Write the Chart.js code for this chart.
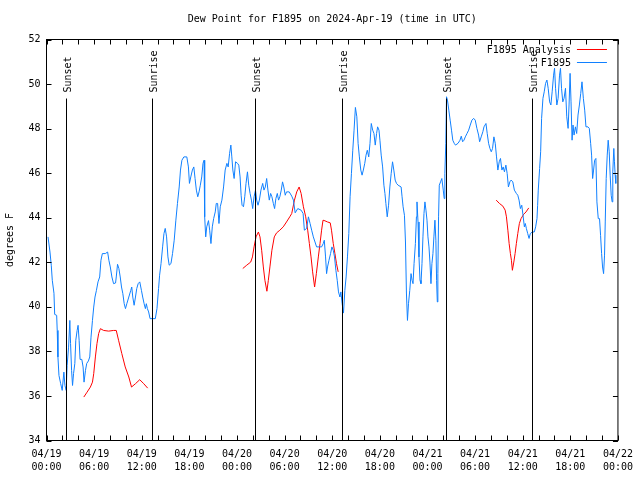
<!DOCTYPE html>
<html>
<head>
<meta charset="utf-8">
<script src="https://cdn.jsdelivr.net/npm/chart.js@4.4.1/dist/chart.umd.min.js"></script>
<style>
  html, body { margin: 0; padding: 0; background: #fff; }
  canvas { display: block; }
</style>
</head>
<body>
<canvas id="dewChart" width="640" height="480"></canvas>
<script>
const chartTitle = "Dew Point for F1895 on 2024-Apr-19 (time in UTC)";
const yAxisTitle = "degrees F";
const seriesNames = ["F1895 Analysis", "F1895"];

// x axis is hours since 04/19 00:00 UTC
const xTickLabels = [
    ["04/19", "00:00"], ["04/19", "06:00"], ["04/19", "12:00"], ["04/19", "18:00"],
    ["04/20", "00:00"], ["04/20", "06:00"], ["04/20", "12:00"], ["04/20", "18:00"],
    ["04/21", "00:00"], ["04/21", "06:00"], ["04/21", "12:00"], ["04/21", "18:00"],
    ["04/22", "00:00"],
];

const sunHours = [2.40, 13.30, 26.28, 37.22, 50.32, 61.20];
const sunLabels = ["Sunset", "Sunrise", "Sunset", "Sunrise", "Sunset", "Sunrise"];
const sunLineTop = 49.35;

// observed dew point (F1895)
const obsHours = [
    0.19, 0.44, 0.60, 0.73, 0.94, 1.03, 1.28, 1.35, 1.44, 1.57,
    1.78, 1.98, 2.19, 2.32, 2.48, 2.60, 2.78, 2.94, 3.03, 3.16,
    3.28, 3.41, 3.57, 3.69, 3.86, 3.98, 4.11, 4.23, 4.45, 4.61,
    4.73, 4.91, 5.07, 5.28, 5.45, 5.61, 5.79, 5.95, 6.11, 6.29,
    6.49, 6.70, 6.86, 7.04, 7.41, 7.70, 7.86, 8.04, 8.24, 8.45,
    8.70, 8.79, 8.95, 9.12, 9.29, 9.45, 9.62, 9.79, 9.95, 10.12,
    10.37, 10.62, 10.74, 10.87, 11.04, 11.21, 11.37, 11.55, 11.75, 11.96,
    12.12, 12.30, 12.46, 12.58, 12.71, 12.87, 13.05, 13.71, 13.92, 14.12,
    14.25, 14.43, 14.63, 14.80, 14.96, 15.13, 15.30, 15.46, 15.68, 15.88,
    16.09, 16.30, 16.50, 16.72, 16.88, 17.06, 17.31, 17.68, 17.88, 18.01,
    18.18, 18.38, 18.56, 18.72, 18.88, 19.06, 19.22, 19.38, 19.56, 19.72,
    19.85, 19.93, 20.06, 20.19, 20.41, 20.56, 20.72, 20.89, 21.06, 21.26,
    21.39, 21.56, 21.73, 21.89, 22.10, 22.31, 22.51, 22.73, 22.89, 23.07,
    23.23, 23.35, 23.48, 23.64, 23.82, 24.07, 24.23, 24.39, 24.52, 24.64,
    24.82, 24.98, 25.14, 25.32, 25.48, 25.65, 25.82, 25.98, 26.15, 26.33,
    26.48, 26.65, 26.82, 27.02, 27.24, 27.40, 27.57, 27.74, 27.90, 28.07,
    28.24, 28.40, 28.58, 28.74, 28.90, 29.08, 29.24, 29.40, 29.58, 29.74,
    29.90, 30.08, 30.24, 30.58, 30.90, 31.11, 31.33, 31.66, 32.08, 32.33,
    32.49, 32.78, 33.00, 33.21, 33.41, 33.62, 33.83, 34.03, 34.66, 34.87,
    35.00, 35.16, 35.29, 35.41, 35.59, 35.79, 35.96, 36.13, 36.29, 36.46,
    36.63, 36.79, 36.97, 37.09, 37.25, 37.42, 37.59, 37.75, 37.92, 38.09,
    38.25, 38.42, 38.59, 38.75, 38.92, 39.10, 39.26, 39.42, 39.60, 39.76,
    39.92, 40.10, 40.26, 40.42, 40.60, 40.76, 40.92, 41.10, 41.26, 41.42,
    41.59, 41.72, 41.89, 42.01, 42.17, 42.35, 42.51, 42.64, 42.76, 42.93,
    43.10, 43.26, 43.43, 43.60, 43.76, 43.93, 44.10, 44.30, 44.68, 44.80,
    44.93, 45.10, 45.23, 45.35, 45.48, 45.61, 45.77, 45.93, 46.06, 46.18,
    46.31, 46.48, 46.61, 46.68, 46.81, 46.93, 47.06, 47.18, 47.31, 47.43,
    47.56, 47.68, 47.81, 47.94, 48.06, 48.19, 48.31, 48.44, 48.56, 48.69,
    48.81, 48.94, 49.06, 49.15, 49.24, 49.31, 49.40, 49.49, 49.65, 49.81,
    49.99, 50.11, 50.19, 50.31, 50.40, 50.52, 50.69, 50.86, 51.03, 51.19,
    51.37, 51.53, 51.85, 52.10, 52.26, 52.43, 52.60, 52.77, 52.98, 53.19,
    53.39, 53.60, 53.82, 54.02, 54.23, 54.44, 54.57, 54.77, 54.98, 55.12,
    55.37, 55.53, 55.70, 55.87, 56.04, 56.20, 56.37, 56.54, 56.70, 56.87,
    57.04, 57.20, 57.38, 57.54, 57.70, 57.88, 58.04, 58.20, 58.38, 58.54,
    58.75, 58.95, 59.20, 59.38, 59.54, 59.71, 59.88, 60.04, 60.21, 60.33,
    60.46, 60.63, 60.80, 60.96, 61.21, 61.46, 61.63, 61.80, 61.88, 61.96,
    62.13, 62.26, 62.38, 62.55, 62.71, 62.88, 63.05, 63.21, 63.39, 63.55,
    63.71, 63.89, 64.01, 64.14, 64.30, 64.46, 64.64, 64.76, 64.89, 65.05,
    65.21, 65.39, 65.55, 65.72, 65.84, 65.97, 66.09, 66.22, 66.34, 66.47,
    66.64, 66.80, 66.97, 67.14, 67.31, 67.47, 67.64, 67.81, 67.97, 68.22,
    68.39, 68.56, 68.68, 68.81, 68.93, 69.06, 69.22, 69.35, 69.52, 69.68,
    69.81, 69.94, 70.06, 70.19, 70.31, 70.40, 70.52, 70.65, 70.77, 70.90,
    71.02, 71.15, 71.27, 71.35, 71.48, 71.56, 71.65, 71.73,
];
const obsDew = [
    43.14, 42.46, 41.87, 41.19, 40.61, 39.66, 39.62, 38.94, 37.75, 36.92,
    36.56, 36.25, 37.07, 36.47, 36.25, 37.37, 38.19, 39.39, 38.36, 37.15,
    36.47, 37.01, 37.46, 38.50, 38.94, 39.17, 38.50, 37.64, 37.64, 37.30,
    36.62, 37.15, 37.46, 37.57, 37.75, 38.64, 39.39, 39.99, 40.44, 40.74,
    41.12, 41.34, 42.09, 42.39, 42.39, 42.46, 42.09, 41.79, 41.34, 41.04,
    41.07, 41.34, 41.91, 41.72, 41.34, 40.89, 40.59, 40.14, 39.92, 40.14,
    40.44, 40.74, 40.89, 40.44, 40.07, 40.44, 40.82, 41.04, 41.12, 40.74,
    40.44, 40.14, 39.92, 40.14, 39.92, 39.77, 39.47, 39.47, 39.92, 40.82,
    41.42, 41.94, 42.69, 43.29, 43.52, 43.14, 42.24, 41.87, 41.94, 42.39,
    42.99, 43.89, 44.64, 45.38, 46.14, 46.58, 46.73, 46.73, 46.28, 45.54,
    45.83, 46.14, 46.28, 45.76, 45.24, 44.94, 45.16, 45.46, 45.83, 46.44,
    46.58, 44.04, 43.14, 43.59, 43.87, 43.44, 42.84, 43.59, 43.96, 44.26,
    44.64, 44.64, 43.74, 44.49, 44.79, 45.38, 46.14, 46.44, 46.28, 46.89,
    47.26, 46.73, 46.14, 45.76, 46.51, 46.44, 46.36, 45.83, 45.01, 44.56,
    44.49, 44.94, 45.54, 46.06, 45.46, 45.09, 44.79, 44.41, 44.94, 45.24,
    44.79, 44.56, 44.79, 45.24, 45.54, 45.24, 45.38, 45.76, 45.24, 44.79,
    45.09, 44.94, 44.64, 44.41, 44.86, 45.09, 44.79, 44.94, 45.24, 45.61,
    45.38, 45.01, 45.16, 45.16, 44.97, 44.79, 44.22, 44.41, 44.34, 44.19,
    43.44, 43.52, 44.04, 43.74, 43.44, 43.14, 42.91, 42.69, 42.69, 42.84,
    42.99, 42.24, 41.49, 41.79, 42.09, 42.39, 42.69, 42.54, 42.24, 41.64,
    41.19, 40.67, 40.44, 40.67, 40.14, 39.72, 40.74, 41.34, 42.24, 43.29,
    44.94, 45.99, 47.03, 47.93, 48.95, 48.53, 47.34, 46.73, 46.14, 45.91,
    46.14, 46.44, 46.81, 47.03, 46.73, 47.34, 48.23, 47.93, 47.78, 47.26,
    47.78, 48.08, 47.93, 47.48, 46.81, 46.28, 45.46, 45.09, 44.64, 44.04,
    44.56, 45.38, 45.99, 46.51, 46.14, 45.69, 45.54, 45.46, 45.38, 44.94,
    44.49, 44.11, 42.91, 40.62, 39.39, 40.14, 40.74, 41.49, 41.19, 41.04,
    41.94, 42.84, 44.04, 44.71, 43.81, 42.24, 41.19, 41.04, 41.94, 43.14,
    44.19, 44.71, 44.34, 43.89, 43.14, 42.69, 42.01, 41.04, 41.94, 42.39,
    43.14, 43.89, 42.99, 41.19, 40.22, 41.49, 44.04, 45.46, 45.61, 45.76,
    45.24, 44.86, 45.99, 47.34, 49.43, 49.28, 48.83, 48.38, 47.93, 47.48,
    47.34, 47.26, 47.34, 47.48, 47.66, 47.41, 47.48, 47.63, 47.78, 47.93,
    48.16, 48.38, 48.46, 48.38, 48.01, 47.71, 47.41, 47.63, 47.86, 48.08,
    48.23, 47.78, 47.34, 47.11, 46.96, 47.11, 47.63, 47.34, 46.73, 46.14,
    46.51, 46.66, 46.14, 46.28, 46.06, 46.36, 45.99, 45.38, 45.61, 45.69,
    45.61, 45.24, 45.09, 45.01, 44.79, 44.41, 44.56, 44.11, 43.59, 43.74,
    43.52, 43.29, 43.07, 43.29, 43.36, 43.36, 43.59, 43.96, 44.56, 45.24,
    46.21, 46.96, 48.46, 49.36, 49.65, 50.03, 50.18, 49.81, 49.20, 49.06,
    49.65, 50.40, 50.71, 49.81, 49.06, 49.36, 50.40, 50.71, 49.81, 49.20,
    49.36, 49.81, 48.53, 48.01, 49.06, 50.48, 49.20, 47.48, 48.16, 47.71,
    48.08, 47.78, 48.61, 49.06, 49.58, 50.10, 49.36, 48.83, 48.08, 48.08,
    48.01, 47.34, 46.81, 45.76, 46.14, 46.58, 46.66, 44.71, 43.96, 43.96,
    43.21, 42.39, 41.79, 41.49, 42.32, 43.81, 45.76, 46.81, 47.48, 46.96,
    45.91, 45.01, 44.71, 46.06, 47.11, 46.51, 45.91, 45.54,
];

// analysis dew point (F1895 Analysis), null breaks the line
const anaHours = [
    4.70, 5.11, 5.53, 5.79, 5.95, 6.16, 6.36, 6.57, 6.79, 7.20,
    7.83, 8.45, 8.79, 9.08, 9.49, 9.92, 10.37, 10.71, 11.21, 11.75,
    12.25, 12.75,
    18.00,
    24.73, 25.23, 25.73, 25.95, 26.15, 26.40, 26.70, 26.90, 27.11, 27.32,
    27.52, 27.77, 27.95, 28.15, 28.40, 28.70, 28.99, 29.40, 29.83, 30.24,
    30.65, 30.90, 31.24, 31.53, 31.83, 32.08, 32.37, 32.66, 32.91, 33.12,
    33.33, 33.53, 33.78, 34.00, 34.25, 34.46, 34.66, 34.84, 35.09, 35.41,
    35.75, 35.91, 36.13, 36.34, 36.54, 36.75,
    45.00,
    56.66, 57.07, 57.50, 57.79, 57.95, 58.13, 58.29, 58.45, 58.58, 58.70,
    58.88, 59.04, 59.20, 59.38, 59.58, 59.79, 60.13, 60.42, 60.76,
];
const anaDew = [
    35.95, 36.17, 36.40, 36.62, 37.00, 37.75, 38.35, 38.80, 39.02, 38.94,
    38.91, 38.94, 38.94, 38.50, 37.90, 37.30, 36.85, 36.40, 36.55, 36.73,
    36.55, 36.35,
    null,
    41.72, 41.87, 42.01, 42.24, 42.69, 43.14, 43.36, 43.14, 42.54, 41.79,
    41.19, 40.70, 41.19, 41.79, 42.54, 43.14, 43.32, 43.44, 43.59, 43.81,
    44.04, 44.19, 44.79, 45.16, 45.38, 45.09, 44.49, 44.04, 43.44, 42.84,
    42.24, 41.57, 40.89, 41.49, 42.24, 42.84, 43.44, 43.89, 43.86, 43.81,
    43.77, 43.44, 42.84, 42.39, 41.94, 41.57,
    null,
    44.79, 44.64, 44.52, 44.34, 44.04, 43.44, 42.84, 42.39, 42.09, 41.64,
    42.01, 42.39, 42.84, 43.29, 43.74, 43.96, 44.16, 44.26, 44.44,
];

const ANA_COLOR = "#ff0000";
const OBS_COLOR = "#1080ff";
const FONT = "10px 'DejaVu Sans Mono', monospace";

function toPoints(hours, values) {
    return hours.map((h, i) => ({ x: h, y: values[i] }));
}

// gnuplot style: frame, inward tics on all sides, title, legend, sun lines
const gnuplotDecor = {
    id: "gnuplotDecor",
    afterDatasetsDraw(chart) {
        const ctx = chart.ctx;
        const xs = chart.scales.x;
        const ys = chart.scales.y;
        const area = chart.chartArea;
        ctx.save();
        ctx.strokeStyle = "#000";
        ctx.fillStyle = "#000";
        ctx.lineWidth = 1;
        ctx.font = FONT;
        const top = ys.getPixelForValue(sunLineTop);
        sunHours.forEach((h, i) => {
            const px = Math.round(xs.getPixelForValue(h)) + 0.5;
            ctx.beginPath();
            ctx.moveTo(px, top);
            ctx.lineTo(px, area.bottom);
            ctx.stroke();
            ctx.save();
            ctx.translate(px + 4.5, top - 6);
            ctx.rotate(-Math.PI / 2);
            ctx.textAlign = "left";
            ctx.textBaseline = "alphabetic";
            ctx.fillText(sunLabels[i], 0, 0);
            ctx.restore();
        });
        ctx.restore();
    },
    afterDraw(chart) {
        const ctx = chart.ctx;
        const xs = chart.scales.x;
        const ys = chart.scales.y;
        const area = chart.chartArea;
        const tic = 5;
        ctx.save();
        ctx.strokeStyle = "#000";
        ctx.fillStyle = "#000";
        ctx.lineWidth = 1;
        ctx.strokeRect(area.left, area.top, area.right - area.left, area.bottom - area.top);

        ctx.beginPath();
        xs.ticks.forEach(t => {
            const px = Math.round(xs.getPixelForValue(t.value)) + 0.5;
            ctx.moveTo(px, area.bottom);
            ctx.lineTo(px, area.bottom - tic);
            ctx.moveTo(px, area.top);
            ctx.lineTo(px, area.top + tic);
        });
        ys.ticks.forEach(t => {
            const py = Math.round(ys.getPixelForValue(t.value)) + 0.5;
            ctx.moveTo(area.left, py);
            ctx.lineTo(area.left + tic, py);
            ctx.moveTo(area.right, py);
            ctx.lineTo(area.right - tic, py);
        });
        ctx.stroke();

        ctx.font = FONT;
        ctx.textBaseline = "middle";
        ctx.textAlign = "center";
        ctx.fillText(chartTitle, (area.left + area.right) / 2, 19);

        ctx.save();
        ctx.translate(10, (area.top + area.bottom) / 2);
        ctx.rotate(-Math.PI / 2);
        ctx.fillText(yAxisTitle, 0, 0);
        ctx.restore();

        // legend: text then line sample
        const legendColors = [ANA_COLOR, OBS_COLOR];
        seriesNames.forEach((name, i) => {
            const y = 50 + i * 13;
            ctx.textAlign = "right";
            ctx.fillStyle = "#000";
            ctx.fillText(name, area.right - 47, y);
            ctx.strokeStyle = legendColors[i];
            ctx.beginPath();
            ctx.moveTo(area.right - 41, y - 0.5);
            ctx.lineTo(area.right - 11, y - 0.5);
            ctx.stroke();
        });
        ctx.restore();
    },
};

Chart.defaults.font.family = "'DejaVu Sans Mono', monospace";
Chart.defaults.font.size = 10;
Chart.defaults.color = "#000";

new Chart(document.getElementById("dewChart"), {
    type: "line",
    data: {
        datasets: [
            {
                label: seriesNames[1],
                data: toPoints(obsHours, obsDew),
                borderColor: OBS_COLOR,
                borderWidth: 1,
            },
            {
                label: seriesNames[0],
                data: toPoints(anaHours, anaDew),
                borderColor: ANA_COLOR,
                borderWidth: 1,
                spanGaps: false,
            },
        ],
    },
    options: {
        responsive: false,
        animation: false,
        devicePixelRatio: 1,
        layout: { padding: { left: 0, right: 18.5, top: 39.5, bottom: 0 } },
        elements: {
            point: { radius: 0, hoverRadius: 0 },
            line: { tension: 0 },
        },
        plugins: {
            legend: { display: false },
            title: { display: false },
            tooltip: { enabled: false },
        },
        scales: {
            x: {
                type: "linear",
                min: 0,
                max: 72,
                afterFit: (s) => { s.height = 39.5; },
                grid: { display: false, drawTicks: false },
                border: { display: false },
                ticks: {
                    stepSize: 2,
                    autoSkip: false,
                    maxRotation: 0,
                    padding: 7,
                    font: { lineHeight: 1.3 },
                    callback: (v) => (v % 6 === 0 ? xTickLabels[v / 6] : ""),
                },
            },
            y: {
                min: 34,
                max: 52,
                afterFit: (s) => { s.width = 46.5; },
                grid: { display: false, drawTicks: false },
                border: { display: false },
                ticks: { stepSize: 2, padding: 6 },
            },
        },
    },
    plugins: [gnuplotDecor],
});
</script>
</body>
</html>
